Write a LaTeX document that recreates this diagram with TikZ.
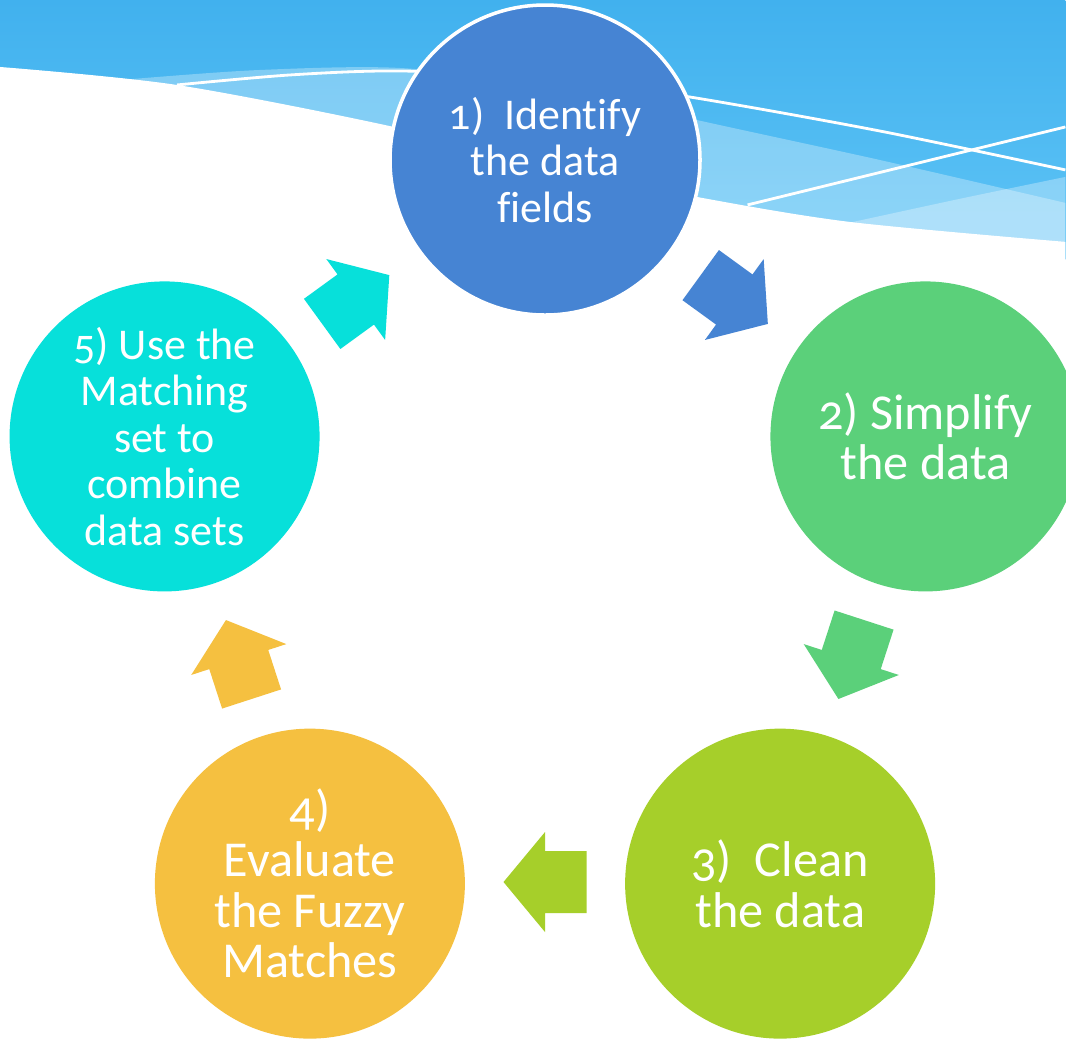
\documentclass[tikz,border=0pt]{standalone}
\usepackage{fontspec}
\setmainfont{Carlito}[Numbers=OldStyle,Ligatures=NoCommon]
\usetikzlibrary{positioning,calc}
\definecolor{skytop}{HTML}{41B1EE}
\definecolor{skylow}{HTML}{5EC4F6}
\definecolor{stepblue}{HTML}{4684D3}
\definecolor{stepgreen}{HTML}{5BD07A}
\definecolor{steplime}{HTML}{A6CF2A}
\definecolor{stepgold}{HTML}{F5C040}
\definecolor{stepcyan}{HTML}{07E0DA}

\tikzset{
  stepcircle/.style={circle,minimum size=3.1cm,inner sep=0pt,align=center,
    text=white,font=\fontsize{12.5}{13.2}\selectfont},
  bigtext/.style={font=\fontsize{14.3}{14.4}\selectfont},
  cyclearrow/.pic={
    \fill (-0.415,-0.31) -- (0,-0.31) -- (0,-0.5) -- (0.415,0)
      -- (0,0.5) -- (0,0.31) -- (-0.415,0.31) -- cycle;
  }
}

\begin{document}
\begin{tikzpicture}
\useasboundingbox (0,0) rectangle (10.66,-10.38);
\clip (0,0) rectangle (10.66,-10.38);

% sky with light bands and thin lines (pixel units)
\begin{scope}[x=0.01cm,y=-0.01cm]
  \fill[top color=skytop,bottom color=skylow] (0,0) rectangle (1066,260);
  \fill[white,opacity=0.3] plot[smooth] coordinates {(110,82) (133,79) (260,70) (400,68) (550,86) (697,120) (880,160) (1066,203)}
    -- (1066,300) -- (110,300) -- cycle;
  \fill[white,opacity=0.3] plot[smooth] coordinates {(840,225) (960,199) (1066,177)}
    -- (1066,300) -- (840,300) -- cycle;
  \fill[white] plot[smooth] coordinates {(0,67) (177,85) (394,127) (560,169) (697,197) (850,222) (1066,242)}
    -- (1066,1038) -- (0,1038) -- cycle;
  \draw[white,line width=0.8pt] plot[smooth] coordinates {(177,85) (290,75) (400,71) (550,78) (690,97) (880,131) (1066,170)};
  \draw[white,line width=0.8pt] (748,205) -- (1066,127);
\end{scope}

\coordinate (hub) at (5.45,-5.60);

% arrows between the steps
\foreach \ang/\col in {54/stepblue,-18/stepgreen,-90/steplime,-162/stepgold,126/stepcyan}
  \pic[\col,rotate=\ang-90] at ($(hub)+(\ang:3.22)$) {cyclearrow};

% the five steps
\node[stepcircle,fill=stepblue,draw=white,line width=1pt] (identify) at ($(hub)+(90:4)$)
  {1)\ \ Identify\\the data\\fields};
\node[stepcircle,bigtext,fill=stepgreen] (simplify) at ($(hub)+(18:4)$)
  {2) Simplify\\the data};
\node[stepcircle,bigtext,fill=steplime] (clean) at ($(hub)+(-54:4)$)
  {3)\ \ Clean\\the data};
\node[stepcircle,bigtext,fill=stepgold] (evaluate) at ($(hub)+(-126:4)$)
  {4)\\Evaluate\\the Fuzzy\\Matches};
\node[stepcircle,fill=stepcyan] (combine) at ($(hub)+(162:4)$)
  {5) Use the\\Matching\\set to\\combine\\data sets};
\end{tikzpicture}
\end{document}
